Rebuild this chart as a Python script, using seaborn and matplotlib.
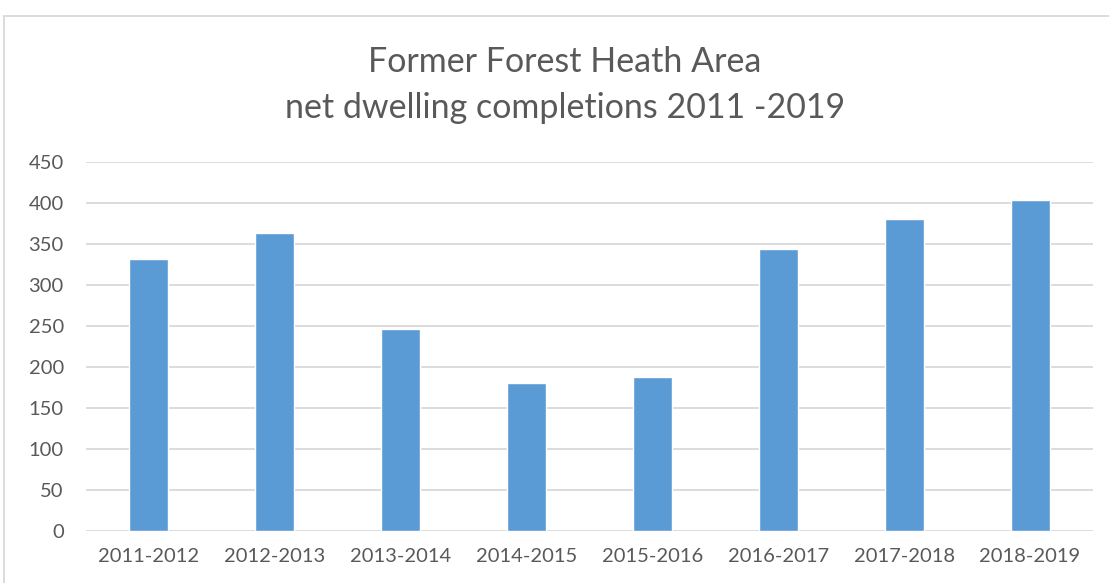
import matplotlib
matplotlib.use("Agg")
import matplotlib.pyplot as plt
import seaborn as sns
import pandas as pd
from matplotlib.patches import Rectangle

categories = ["2011-2012", "2012-2013", "2013-2014", "2014-2015",
              "2015-2016", "2016-2017", "2017-2018", "2018-2019"]
values = [332, 363, 246, 181, 188, 344, 380, 404]
yticks = [0, 50, 100, 150, 200, 250, 300, 350, 400, 450]
title = "Former Forest Heath Area\nnet dwelling completions 2011 -2019"

sns.set_theme(style="white")
plt.rcParams['font.family'] = ['Lato', 'DejaVu Sans']

df = pd.DataFrame({"period": categories, "completions": values})

fig = plt.figure(figsize=(11.09, 5.83), dpi=100)
ax = fig.add_axes([86/1109, 1-531/583, (1093-86)/1109, (531-162)/583])

sns.barplot(data=df, x="period", y="completions", color="#5b9bd5",
            saturation=1, width=0.31, ax=ax, zorder=3)

ax.set_ylim(0, 450)
ax.set_yticks(yticks)
ax.set_xlim(-0.5, len(categories) - 0.5)
ax.yaxis.grid(True, color="#d9d9d9", linewidth=1.3, zorder=0)
ax.xaxis.grid(False)
for s in ax.spines.values():
    s.set_visible(False)
ax.set_xlabel("")
ax.set_ylabel("")
ax.tick_params(axis="both", length=0, labelsize=14.5, labelcolor="#595959")
ax.tick_params(axis="y", pad=16)
ax.tick_params(axis="x", pad=12)

fig.text(565/1109, 1-85/583, title, ha="center", va="center",
         fontsize=24.5, color="#595959", linespacing=1.55)

# chart border
fig.patches.append(Rectangle((4/1109, -0.05), 1.2, 1-16/583+0.05,
                             transform=fig.transFigure, fill=False,
                             edgecolor="#d9d9d9", linewidth=1.3))

fig.savefig("out.png", dpi=100)
